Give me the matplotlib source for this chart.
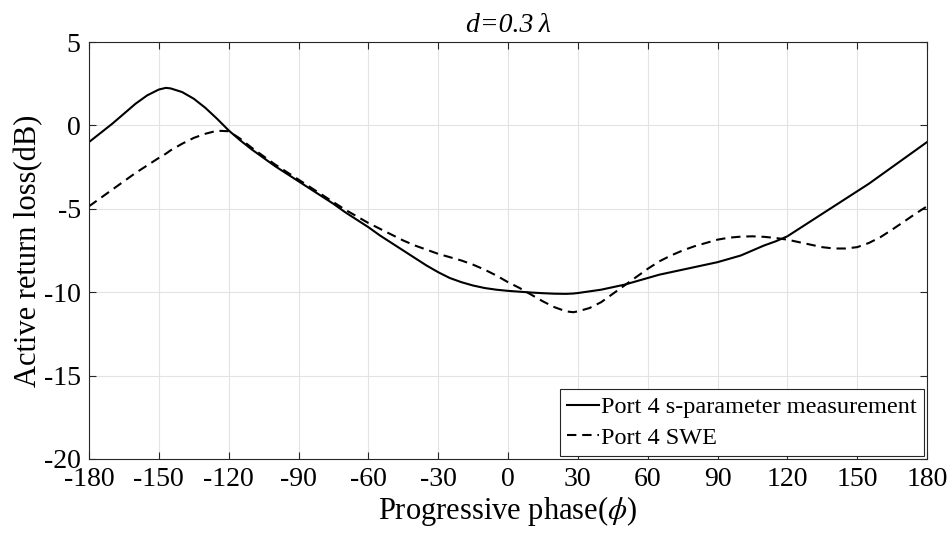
import matplotlib
matplotlib.use("Agg")
import matplotlib.pyplot as plt

plt.rcParams['font.family'] = ['Liberation Serif', 'DejaVu Serif']
plt.rcParams['mathtext.fontset'] = 'stix'

# Progressive phase (degrees) and active return loss (dB) for port 4
phase = [-180, -175, -170, -165, -160, -155, -150, -147, -145, -140, -135, -130,
         -125, -120, -115, -110, -105, -100, -95, -90, -85, -80, -75, -70, -65,
         -60, -55, -50, -45, -40, -35, -30, -25, -20, -15, -10, -5, 0, 5, 10,
         15, 20, 25, 28, 30, 35, 40, 45, 50, 55, 60, 65, 70, 75, 80, 85, 90,
         95, 100, 105, 110, 115, 120, 125, 130, 135, 140, 145, 150, 155, 160,
         165, 170, 175, 180]

measured = [-1.0, -0.45, 0.1, 0.7, 1.3, 1.8, 2.15, 2.25, 2.22, 2.0, 1.6, 1.05,
            0.4, -0.3, -0.9, -1.45, -1.95, -2.45, -2.9, -3.35, -3.8, -4.25, -4.7,
            -5.2, -5.65, -6.1, -6.6, -7.05, -7.5, -7.95, -8.4, -8.8, -9.15, -9.4,
            -9.6, -9.75, -9.85, -9.92, -9.97, -10.02, -10.06, -10.09, -10.1, -10.08,
            -10.05, -9.95, -9.85, -9.7, -9.55, -9.35, -9.15, -8.95, -8.8, -8.65,
            -8.5, -8.35, -8.2, -8.0, -7.8, -7.5, -7.2, -6.95, -6.65, -6.2, -5.75,
            -5.3, -4.85, -4.4, -3.95, -3.5, -3.0, -2.5, -2.0, -1.5, -1.0]

swe = [-4.85, -4.35, -3.85, -3.35, -2.85, -2.4, -1.95, -1.7, -1.5, -1.1, -0.75,
       -0.5, -0.32, -0.35, -0.8, -1.35, -1.85, -2.35, -2.8, -3.25, -3.7, -4.15,
       -4.6, -5.05, -5.45, -5.85, -6.2, -6.55, -6.9, -7.2, -7.45, -7.7, -7.9,
       -8.1, -8.35, -8.65, -9.0, -9.4, -9.75, -10.15, -10.55, -10.9, -11.15,
       -11.2, -11.15, -10.95, -10.6, -10.1, -9.6, -9.1, -8.6, -8.15, -7.8, -7.5,
       -7.25, -7.05, -6.85, -6.73, -6.67, -6.65, -6.68, -6.75, -6.85, -7.0,
       -7.15, -7.3, -7.38, -7.38, -7.3, -7.05, -6.7, -6.25, -5.78, -5.3, -4.85]

xticks = list(range(-180, 181, 30))
yticks = list(range(-20, 6, 5))

fig = plt.figure(figsize=(9.52, 5.36), dpi=100)
ax = fig.add_axes([89 / 952, 1 - 459 / 536, (927 - 89) / 952, (459 - 42) / 536])

ax.plot(phase, measured, color='black', lw=1.5, ls='-',
        label='Port 4 s-parameter measurement')
ax.plot(phase, swe, color='black', lw=1.5, ls=(0, (4.5, 2.8)),
        label='Port 4 SWE')

ax.set_xlim(-180, 180)
ax.set_ylim(-20, 5)
ax.set_xticks(xticks)
ax.set_yticks(yticks)
ax.set_xticklabels([str(t) for t in xticks])
ax.set_yticklabels([str(t) for t in yticks])
ax.tick_params(direction='in', top=True, right=True, labelsize=20,
               length=5, width=0.8, color='#262626')
ax.tick_params(axis='x', pad=6)
ax.tick_params(axis='y', pad=6)
ax.grid(True, color='#e3e3e3', lw=0.8)
ax.set_axisbelow(True)
for s in ax.spines.values():
    s.set_color('#262626')
    s.set_linewidth(0.8)

ax.set_xlabel(r'Progressive phase($\phi$)', fontsize=22, labelpad=1)
ax.set_ylabel('Active return loss(dB)', fontsize=22, labelpad=0)
ax.set_title('d=0.3\u2009λ', fontsize=20, fontstyle='italic', pad=7)

leg = ax.legend(loc='lower right', fontsize=17.5, frameon=True, fancybox=False,
                edgecolor='#262626', framealpha=1, borderaxespad=0.12,
                handlelength=1.3, handletextpad=0.1, borderpad=0.3,
                labelspacing=0.35)
leg.get_frame().set_linewidth(0.8)

fig.savefig('out.png', dpi=100)
